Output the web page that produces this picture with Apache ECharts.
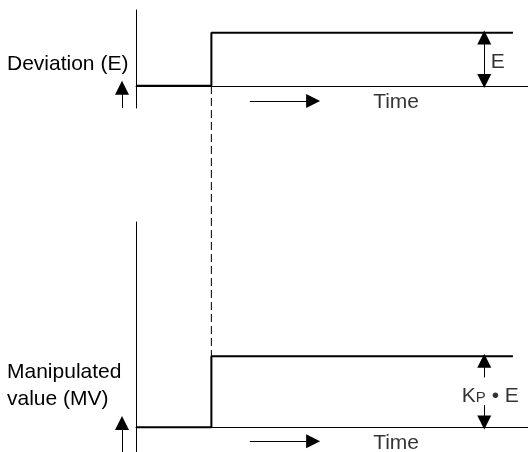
<!DOCTYPE html>
<html>
<head>
<meta charset="utf-8">
<script src="https://cdn.jsdelivr.net/npm/echarts@6/dist/echarts.min.js"></script>
<style>
  html, body { margin: 0; padding: 0; background: #fff; }
  #main { width: 528px; height: 452px; }
</style>
</head>
<body>
<div id="main"></div>
<script>
// step input / output (time units, normalized level)
var stepTime = [0, 2, 2, 10];
var deviation = [0, 0, 1, 1];       // E
var manipulated = [0, 0, 1, 1];     // Kp * E
var stepAt = 2;
var linkLevel = [0, 1];             // dashed link, from E baseline to MV step

// annotation positions (time, level); arrow heads are centred on the end point
var timeArrow = [3.02, 4.7];
var topTimeLevel = -0.29;
var botTimeLevel = -0.2;
var ampTime = 9.24;
var eArrow = [0.09, 0.91];
var kpArrowUp = [0.7, 0.935];
var kpArrowDown = [0.31, 0.065];
var topIndicator = [-0.42, -0.04];
var botIndicator = [-0.35, 0.06];

var FONT = 'Liberation Sans, Arial, sans-serif';

function pairs(xs, ys) {
    var out = [];
    for (var i = 0; i < xs.length; i++) {
        out.push([xs[i], ys[i]]);
    }
    return out;
}

function arrowLine(from, to, heads) {
    return [{coord: from, symbol: heads[0]}, {coord: to, symbol: heads[1]}];
}

function mk(data) {
    return {
        silent: true,
        animation: false,
        symbolSize: [14, 14],
        label: {show: false},
        lineStyle: {color: '#000', width: 1, type: 'solid'},
        emphasis: {disabled: true},
        data: data
    };
}

function axisX(idx, min, max, showLine) {
    return {
        gridIndex: idx, type: 'value', min: min, max: max,
        axisLine: {show: showLine, onZero: true, lineStyle: {color: '#000', width: 1}},
        axisTick: {show: false}, axisLabel: {show: false}, splitLine: {show: false}
    };
}

function axisY(idx, min, max, showLine) {
    return {
        gridIndex: idx, type: 'value', min: min, max: max,
        axisLine: {show: showLine, lineStyle: {color: '#000', width: 1}},
        axisTick: {show: false}, axisLabel: {show: false}, splitLine: {show: false}
    };
}

var chart = echarts.init(document.getElementById('main'));
var option = {
    animation: false,
    backgroundColor: '#fff',
    textStyle: {fontFamily: FONT},
    title: [{
        text: 'Deviation (E)',
        left: 7, top: 52, padding: 0,
        textStyle: {fontFamily: FONT, fontSize: 21, fontWeight: 'normal', color: '#000', lineHeight: 25}
    }, {
        text: 'Manipulated\nvalue (MV)',
        left: 7, top: 359, padding: 0,
        textStyle: {fontFamily: FONT, fontSize: 21, fontWeight: 'normal', color: '#000', lineHeight: 27}
    }],
    grid: [
        {left: 136, top: 10, width: 392, height: 98},    // E
        {left: 136, top: 222, width: 392, height: 230},  // MV
        {left: 136, top: 86, width: 392, height: 270},   // dashed link
        {left: 117, top: 10, width: 10, height: 98},     // indicator arrow E
        {left: 117, top: 222, width: 10, height: 230}    // indicator arrow MV
    ],
    xAxis: [
        axisX(0, 0, 10.4, true),
        axisX(1, 0, 10.4, true),
        axisX(2, 0, 10.4, false),
        axisX(3, 0, 1, false),
        axisX(4, 0, 1, false)
    ],
    yAxis: [
        axisY(0, -0.42, 1.43, true),
        axisY(1, -0.35, 2.89, true),
        Object.assign(axisY(2, 0, 1, false), {inverse: true}),
        axisY(3, -0.42, 1.43, false),
        axisY(4, -0.35, 2.89, false)
    ],
    series: [{
        // 偏差 step
        type: 'line',
        xAxisIndex: 0, yAxisIndex: 0,
        data: pairs(stepTime, deviation),
        showSymbol: false, clip: false, silent: true,
        lineStyle: {color: '#000', width: 2},
        markLine: mk([
            arrowLine([ampTime, eArrow[0]], [ampTime, eArrow[1]], ['triangle', 'triangle']),
            arrowLine([timeArrow[0], topTimeLevel], [timeArrow[1], topTimeLevel], ['none', 'triangle'])
        ])
    }, {
        // 操作量 step
        type: 'line',
        xAxisIndex: 1, yAxisIndex: 1,
        data: pairs(stepTime, manipulated),
        showSymbol: false, clip: false, silent: true,
        lineStyle: {color: '#000', width: 2},
        markLine: mk([
            arrowLine([ampTime, kpArrowUp[0]], [ampTime, kpArrowUp[1]], ['none', 'triangle']),
            arrowLine([ampTime, kpArrowDown[0]], [ampTime, kpArrowDown[1]], ['none', 'triangle']),
            arrowLine([timeArrow[0], botTimeLevel], [timeArrow[1], botTimeLevel], ['none', 'triangle'])
        ])
    }, {
        // dashed link
        type: 'line',
        xAxisIndex: 2, yAxisIndex: 2,
        data: pairs([stepAt, stepAt], linkLevel),
        showSymbol: false, clip: false, silent: true,
        lineStyle: {color: '#000', width: 1, type: [8, 4]}
    }, {
        // up indicator arrows
        type: 'line',
        xAxisIndex: 3, yAxisIndex: 3,
        data: [], silent: true,
        markLine: mk([arrowLine([0.5, topIndicator[0]], [0.5, topIndicator[1]], ['none', 'triangle'])])
    }, {
        type: 'line',
        xAxisIndex: 4, yAxisIndex: 4,
        data: [], silent: true,
        markLine: mk([arrowLine([0.5, botIndicator[0]], [0.5, botIndicator[1]], ['none', 'triangle'])])
    }, {
        // labels top
        type: 'scatter',
        xAxisIndex: 0, yAxisIndex: 0,
        symbolSize: 0, silent: true, clip: false,
        data: [
            {value: [6.9, -0.31], label: {formatter: 'Time'}},
            {value: [9.6, 0.45], label: {formatter: 'E'}}
        ],
        label: {show: true, position: 'inside', color: '#000', fontSize: 21, fontFamily: FONT}
    }, {
        // labels bottom
        type: 'scatter',
        xAxisIndex: 1, yAxisIndex: 1,
        symbolSize: 0, silent: true, clip: false,
        data: [
            {value: [6.9, -0.22], label: {formatter: 'Time'}},
            {value: [9.4, 0.45], label: {
                formatter: '{k|K}{p|P}{n| • E}',
                rich: {
                    k: {fontSize: 21, fontFamily: FONT, color: '#000', lineHeight: 22, verticalAlign: 'bottom'},
                    p: {fontSize: 15, fontFamily: FONT, color: '#000', lineHeight: 22, verticalAlign: 'bottom', padding: [0, 0, 1, 0]},
                    n: {fontSize: 21, fontFamily: FONT, color: '#000', lineHeight: 22, verticalAlign: 'bottom'}
                }
            }}
        ],
        label: {show: true, position: 'inside', color: '#000', fontSize: 21, fontFamily: FONT}
    }]
};
chart.setOption(option);
</script>
</body>
</html>
